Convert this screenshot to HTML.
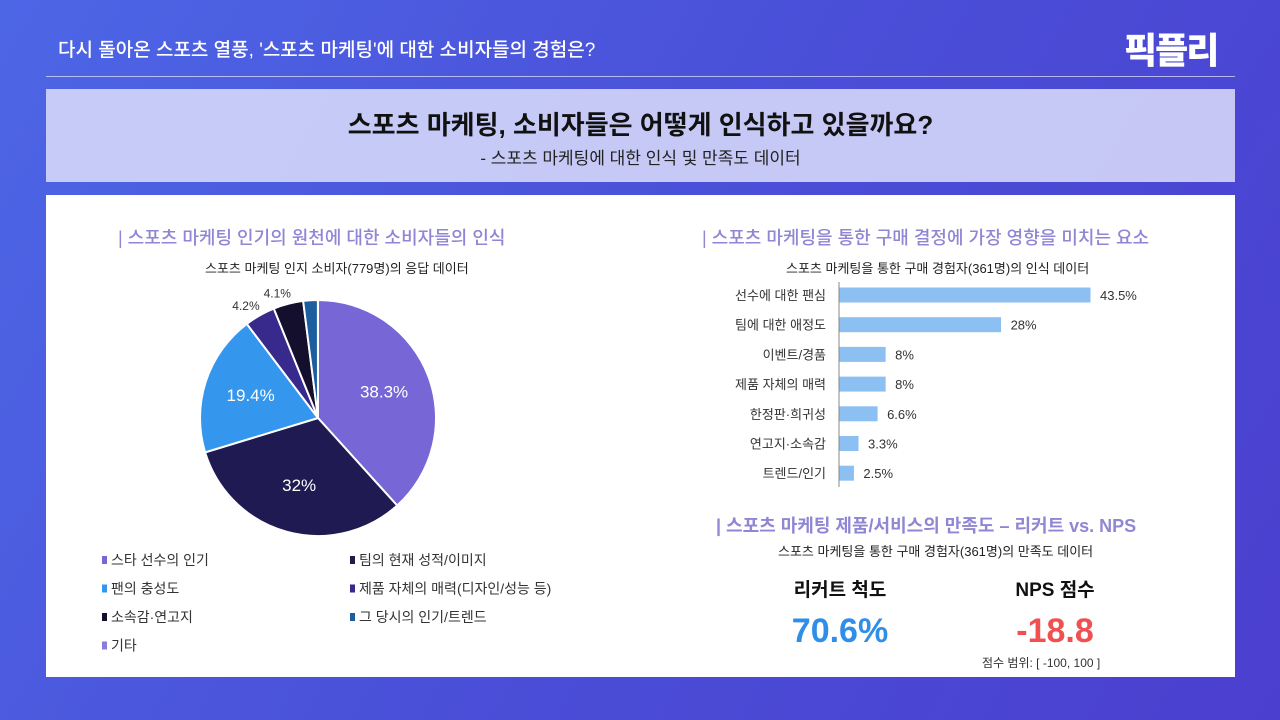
<!DOCTYPE html>
<html><head><meta charset="utf-8">
<style>
*{margin:0;padding:0;box-sizing:border-box}
body{width:1280px;height:720px;overflow:hidden;font-family:"Liberation Sans","Noto Sans CJK KR",sans-serif;background:linear-gradient(120deg,#4d66e6 0%,#4a4fd8 50%,#4b3fcf 100%);position:relative}
.abs{position:absolute}
</style></head><body>
<div class="abs" style="left:58px;top:35px;color:#fff;font-size:19px;font-weight:500">다시 돌아온 스포츠 열풍, '스포츠 마케팅'에 대한 소비자들의 경험은?</div>
<div class="abs" style="left:1124px;top:22px;color:#fff;font-size:36px;font-weight:900;letter-spacing:-2px">픽플리</div>
<div class="abs" style="left:46px;top:76px;width:1189px;height:1px;background:rgba(255,255,255,0.6)"></div>
<div class="abs" style="left:46px;top:89px;width:1189px;height:93px;background:rgba(220,222,250,0.85);text-align:center">
<div style="margin-top:16px;font-size:26px;font-weight:700;color:#111">스포츠 마케팅, 소비자들은 어떻게 인식하고 있을까요?</div>
<div style="font-size:17px;color:#222;margin-top:2px">- 스포츠 마케팅에 대한 인식 및 만족도 데이터</div>
</div>
<div class="abs" style="left:46px;top:195px;width:1189px;height:482px;background:#fff"></div>

<div class="abs" style="left:118px;top:224px;font-size:18px;color:#8f86d4;font-weight:500">| 스포츠 마케팅 인기의 원천에 대한 소비자들의 인식</div>
<div class="abs" style="left:205px;top:258px;font-size:13px;color:#222">스포츠 마케팅 인지 소비자(779명)의 응답 데이터</div>
<svg class="abs" style="left:0;top:0" width="1280" height="720" id="chart"></svg>

<div class="abs" style="left:702px;top:224px;font-size:18px;color:#8f86d4;font-weight:500">| 스포츠 마케팅을 통한 구매 결정에 가장 영향을 미치는 요소</div>
<div class="abs" style="left:786px;top:258px;font-size:13px;color:#222">스포츠 마케팅을 통한 구매 경험자(361명)의 인식 데이터</div>

<div class="abs" style="left:716px;top:512px;font-size:18px;color:#8f86d4;font-weight:700">| 스포츠 마케팅 제품/서비스의 만족도 – 리커트 vs. NPS</div>
<div class="abs" style="left:778px;top:541px;font-size:13px;color:#222">스포츠 마케팅을 통한 구매 경험자(361명)의 만족도 데이터</div>
<div class="abs" style="left:770px;top:575px;width:140px;text-align:center;font-size:19px;font-weight:700;color:#111">리커트 척도</div>
<div class="abs" style="left:760px;top:612px;width:160px;text-align:center;font-size:34px;font-weight:700;color:#2f8ee8">70.6%</div>
<div class="abs" style="left:985px;top:575px;width:140px;text-align:center;font-size:19px;font-weight:700;color:#111">NPS 점수</div>
<div class="abs" style="left:975px;top:612px;width:160px;text-align:center;font-size:34px;font-weight:700;color:#f05050">-18.8</div>
<div class="abs" style="left:982px;top:654px;font-size:12px;color:#333">점수 범위: [ -100, 100 ]</div>

<script>
const pieLabels=["스타 선수의 인기","팀의 현재 성적/이미지","팬의 충성도","제품 자체의 매력(디자인/성능 등)","소속감·연고지","그 당시의 인기/트렌드","기타"];
const pieValues=[38.3,32,19.4,4.2,4.1,2.0,0.01];
const pieText=["38.3%","32%","19.4%","4.2%","4.1%","",""];
const pieColors=["#7766d6","#1f1a52","#3496ec","#372a8c","#130f2c","#1b5d9f","#8b7bda"];
const barCats=["선수에 대한 팬심","팀에 대한 애정도","이벤트/경품","제품 자체의 매력","한정판·희귀성","연고지·소속감","트렌드/인기"];
const barValues=[43.5,28,8,8,6.6,3.3,2.5];
const barText=["43.5%","28%","8%","8%","6.6%","3.3%","2.5%"];
const NS="http://www.w3.org/2000/svg";
const svg=document.getElementById('chart');
function mk(t,a){const e=document.createElementNS(NS,t);for(const k in a)e.setAttribute(k,a[k]);svg.appendChild(e);return e;}
const cx=318,cy=418,R=118;
const total=pieValues.reduce((a,b)=>a+b,0);
let ang=0;
pieValues.forEach((v,i)=>{
 const a0=ang,a1=ang+v/total*2*Math.PI;ang=a1;
 const p=(a)=>[cx+R*Math.sin(a),cy-R*Math.cos(a)];
 const [x0,y0]=p(a0),[x1,y1]=p(a1);
 const large=(a1-a0)>Math.PI?1:0;
 const s=mk('path',{d:`M${cx},${cy}L${x0},${y0}A${R},${R} 0 ${large} 1 ${x1},${y1}Z`,fill:pieColors[i],stroke:'#fff','stroke-width':2});
 
 
 if(pieText[i]){
  const m=(a0+a1)/2;const big=v>10;const r=big?R*0.6:R*1.1;
  const t=mk('text',{x:cx+r*Math.sin(m)-(big?0:8),y:cy-r*Math.cos(m)+5,'text-anchor':'middle','font-size':big?17:12,fill:big?'#fff':'#333','font-family':'Liberation Sans, sans-serif'});
  t.textContent=pieText[i];
  
  
 }
});
pieLabels.forEach((l,i)=>{
 const col=i%2,row=Math.floor(i/2);
 const x=102+col*248,y=560+row*28.5;
 const r=mk('rect',{x:x,y:y-4,width:5,height:8,fill:pieColors[i]});
 
 
 const t=mk('text',{x:x+9,y:y+5,'font-size':14,fill:'#333'});
 t.textContent=l;
 
 
});
const x0b=839,scale=251/43.5,yTop=295,step=29.7,bh=15;
const xs=v=>x0b+v*scale;
const ax=mk('line',{x1:x0b,y1:282,x2:x0b,y2:487,stroke:'#888','stroke-width':1});


barCats.forEach((c,i)=>{
 const y=yTop+i*step;
 const b=mk('rect',{x:x0b+0.5,y:y-bh/2,width:xs(barValues[i])-x0b,height:bh,fill:'#8cc0f2'});
 
 
 const t=mk('text',{x:826,y:y+5,'text-anchor':'end','font-size':13,fill:'#333'});
 t.textContent=c;
 
 
 const v=mk('text',{x:xs(barValues[i])+10,y:y+5,'font-size':13,fill:'#333'});
 v.textContent=barText[i];
 
 
});
</script>
</body></html>
